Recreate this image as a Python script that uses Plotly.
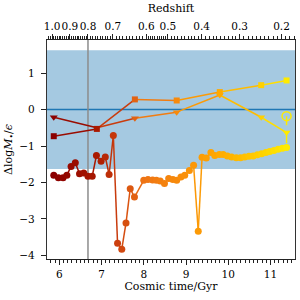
import plotly.graph_objects as go

# ---------------- data ----------------
circ_t = [5.87, 5.98, 6.09, 6.18, 6.28, 6.38, 6.48, 6.58, 6.68, 6.78, 6.88, 6.99, 7.09, 7.18,
          7.28, 7.38, 7.48, 7.58, 7.68, 7.78, 8.00, 8.10, 8.21, 8.30, 8.39, 8.49, 8.59, 8.69,
          8.78, 8.88, 8.97, 9.08, 9.18, 9.29, 9.38, 9.48, 9.59, 9.68, 9.79, 9.88, 9.98, 10.08,
          10.19, 10.29, 10.39, 10.49, 10.59, 10.69, 10.79, 10.89, 10.98, 11.08, 11.18, 11.28, 11.38]
circ_y = [-1.80, -1.87, -1.87, -1.80, -1.56, -1.46, -1.76, -1.74, -1.83, -1.83, -1.26, -1.42, -1.30, -1.78,
          -0.71, -3.67, -3.83, -3.11, -2.17, -2.40, -1.94, -1.92, -1.93, -1.94, -1.96, -2.03, -1.89, -1.92,
          -1.94, -1.85, -1.80, -1.67, -1.53, -3.34, -1.31, -1.33, -1.18, -1.26, -1.23, -1.23, -1.27, -1.30,
          -1.32, -1.32, -1.30, -1.28, -1.27, -1.24, -1.21, -1.18, -1.15, -1.12, -1.09, -1.06, -1.04]

sq_t = [5.87, 6.89, 7.79, 8.78, 9.80, 10.78, 11.38]
sq_y = [-0.73, -0.53, 0.28, 0.25, 0.48, 0.67, 0.80]

tri_t = [5.87, 6.89, 7.79, 8.78, 9.80, 10.78, 11.38]
tri_y = [-0.21, -0.50, -0.24, -0.07, 0.40, -0.21, -0.63]

open_t = [11.38]
open_y = [-0.18]

band_half = 1.63
ref_time = 6.68

z_labels = ["1.0", "0.9", "0.8", "0.7", "0.6", "0.5", "0.4", "0.3", "0.2"]
z_values = [1.0, 0.9, 0.8, 0.7, 0.6, 0.5, 0.4, 0.3, 0.2]
z_times = [5.83, 6.25, 6.68, 7.27, 8.06, 8.57, 9.37, 10.27, 11.26]

# ---------------- styling ----------------
FONT = "DejaVu Serif"
X_RANGE = [5.71, 11.58]
Y_RANGE = [-4.10, 1.91]

CMAP = [(5.87, (139, 0, 0)), (6.9, (170, 25, 0)), (7.4, (205, 65, 15)),
        (8.0, (238, 115, 20)), (9.0, (250, 145, 10)), (9.8, (255, 170, 0)),
        (10.6, (255, 200, 0)), (11.38, (255, 235, 0))]


def cmap(t):
    if t <= CMAP[0][0]:
        c = CMAP[0][1]
    elif t >= CMAP[-1][0]:
        c = CMAP[-1][1]
    else:
        for (t0, c0), (t1, c1) in zip(CMAP[:-1], CMAP[1:]):
            if t0 <= t <= t1:
                f = (t - t0) / (t1 - t0)
                c = tuple(c0[k] + f * (c1[k] - c0[k]) for k in range(3))
                break
    return "rgb(%d,%d,%d)" % tuple(round(v) for v in c)


fig = go.Figure()


def add_series(ts, ys, symbol, size):
    for i in range(len(ts) - 1):
        fig.add_trace(go.Scatter(x=[ts[i], ts[i + 1]], y=[ys[i], ys[i + 1]], mode="lines",
                                 line=dict(color=cmap((ts[i] + ts[i + 1]) / 2), width=1.5),
                                 showlegend=False, hoverinfo="skip"))
    fig.add_trace(go.Scatter(x=ts, y=ys, mode="markers",
                             marker=dict(symbol=symbol, size=size, color=[cmap(t) for t in ts],
                                         line=dict(width=0)),
                             showlegend=False, hoverinfo="skip"))


add_series(circ_t, circ_y, "circle", 7)
add_series(sq_t, sq_y, "square", 6)
add_series(tri_t, tri_y, "triangle-down", 7)

# dashed connector from open circle down
fig.add_trace(go.Scatter(x=[open_t[0], circ_t[-1]], y=[open_y[0], circ_y[-1]], mode="lines",
                         line=dict(color=cmap(open_t[0]), width=1.5, dash="dash"),
                         showlegend=False, hoverinfo="skip"))
fig.add_trace(go.Scatter(x=open_t, y=open_y, mode="markers",
                         marker=dict(symbol="circle-open", size=9, color=cmap(open_t[0]),
                                     line=dict(width=1.5, color=cmap(open_t[0]))),
                         showlegend=False, hoverinfo="skip"))

# dummy trace for top axis
fig.add_trace(go.Scatter(x=[6], y=[0], xaxis="x2", mode="markers",
                         marker=dict(opacity=0), showlegend=False, hoverinfo="skip"))

# shapes
fig.add_shape(type="rect", xref="x", yref="y", x0=X_RANGE[0], x1=X_RANGE[1],
              y0=-band_half, y1=band_half, fillcolor="#a5c9e1", line=dict(width=0), layer="below")
fig.add_shape(type="line", xref="x", yref="y", x0=X_RANGE[0], x1=X_RANGE[1], y0=0, y1=0,
              line=dict(color="#1f77b4", width=1.5), layer="below")
fig.add_shape(type="line", xref="x", yref="y", x0=ref_time, x1=ref_time, y0=Y_RANGE[0], y1=Y_RANGE[1],
              line=dict(color="#8c8c8c", width=1.5), layer="below")

# minor redshift ticks (interpolated between major tick positions)
minor_z = []
for (t0, t1) in zip(z_times[:-1], z_times[1:]):
    for k in range(1, 10):
        minor_z.append(t0 + (t1 - t0) * k / 10)
step0 = (z_times[1] - z_times[0]) / 10
for k in range(1, 4):
    v = z_times[0] - step0 * k
    if v > X_RANGE[0]:
        minor_z.append(v)
step1 = (z_times[-1] - z_times[-2]) / 10
for k in range(1, 4):
    v = z_times[-1] + step1 * k
    if v < X_RANGE[1]:
        minor_z.append(v)

axis_font = dict(family=FONT, size=11, color="black")
tick_font = dict(family=FONT, size=10.5, color="black")

fig.update_layout(
    width=300, height=300,
    margin=dict(l=47, r=5, t=40, b=41, autoexpand=False),
    paper_bgcolor="white", plot_bgcolor="white",
    font=axis_font,
    xaxis=dict(range=X_RANGE, autorange=False, showgrid=False, zeroline=False, showline=True, linecolor="#222",
               linewidth=1.2, mirror=False, ticks="outside", ticklen=5, tickwidth=1, tickcolor="#222",
               dtick=1, tick0=0, tickfont=tick_font, tickangle=0, automargin=False,
               minor=dict(dtick=0.1, tick0=0, ticks="outside", ticklen=2.5, tickcolor="#222", showgrid=False),
               title=dict(text="Cosmic time/Gyr", font=axis_font, standoff=2)),
    xaxis2=dict(range=X_RANGE, autorange=False, overlaying="x", side="top", anchor="y", showgrid=False,
                zeroline=False, showline=True, linecolor="#222", linewidth=1.2, automargin=False,
                tickmode="array", tickvals=z_times, ticktext=z_labels, ticks="outside", ticklen=5,
                tickcolor="#222", tickfont=tick_font, tickangle=0,
                minor=dict(tickmode="array", tickvals=minor_z, ticks="outside", ticklen=2.5,
                           tickcolor="#222", showgrid=False),
                title=dict(text="Redshift", font=axis_font, standoff=4)),
    yaxis=dict(range=Y_RANGE, autorange=False, showgrid=False, zeroline=False, showline=True, linecolor="#333",
               linewidth=1.2, mirror=True, ticks="outside", ticklen=5, tickcolor="#222", dtick=1,
               tickfont=tick_font, automargin=False, ticklabelstandoff=4,
               title=dict(text="Δlog<i>M</i><sub>•</sub>/<i>ϵ</i>", font=axis_font, standoff=4)),
)

fig.write_html("out.html", config={"displayModeBar": False},
               post_script="document.body.style.margin='0';document.body.style.padding='0';")
